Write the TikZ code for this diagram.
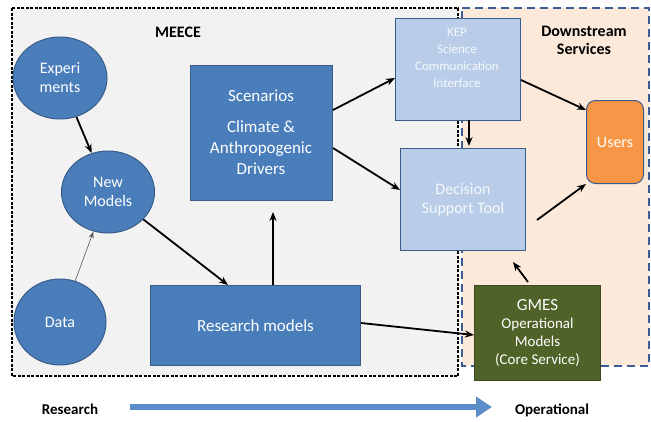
\documentclass[tikz,border=0pt]{standalone}
\usepackage{fontspec}
\setmainfont{Carlito}
\usetikzlibrary{arrows.meta}
\definecolor{meecefill}{HTML}{F2F2F2}
\definecolor{downfill}{HTML}{FCE9DA}
\definecolor{dkblue}{HTML}{4A7EBB}
\definecolor{bordblue}{HTML}{385D8A}
\definecolor{litblue}{HTML}{B9CDE9}
\definecolor{dashblue}{HTML}{3B5C95}
\definecolor{gmesgreen}{HTML}{4F6228}
\definecolor{gmesbord}{HTML}{3A4A1E}
\definecolor{userorange}{HTML}{F79646}
\definecolor{bigarrow}{HTML}{5B8DC8}
\tikzset{
  txt/.style={font=\fontsize{16}{19}\selectfont, text=white, align=center},
  ell/.style={ellipse, fill=dkblue, draw=bordblue, line width=1pt, txt},
  dkbox/.style={fill=dkblue, draw=bordblue, line width=1pt, txt},
  ltbox/.style={fill=litblue, draw=bordblue, line width=1pt, txt},
  conn/.style={-{Stealth[length=9pt,width=7pt]}, line width=1.8pt, black},
  thinconn/.style={-{Stealth[length=7pt,width=5pt]}, line width=0.6pt, gray!70!black},
  lbl/.style={font=\bfseries\fontsize{16}{18}\selectfont, align=center, text=black},
}
\usetikzlibrary{shapes.geometric}
\begin{document}
\begin{tikzpicture}[x=1pt,y=-1pt]
\useasboundingbox (0,0) rectangle (651,421);
\fill[white] (0,0) rectangle (651,421);
% regions
\fill[downfill] (462,8) rectangle (649,366);
\draw[dashblue, line width=2pt, dash pattern=on 8pt off 5pt] (462,8) -- (649,8) -- (649,366) -- (462,366) -- cycle;
\fill[meecefill] (12,8) rectangle (458,376);
\draw[black, line width=1.8pt, dash pattern=on 3pt off 1.5pt] (12,8) rectangle (458,376);
\node[lbl] (meece) at (178,32) {MEECE};
\node[lbl] (down) at (584,40) {Downstream\\Services};
% nodes
\node[ell, minimum width=94pt, minimum height=82pt, inner sep=0pt] (exp) at (60,78) {Experi\\ments};
\node[ell, minimum width=93pt, minimum height=82pt, inner sep=0pt] (newm) at (108,192) {New\\Models};
\node[ell, minimum width=92pt, minimum height=86pt, inner sep=0pt] (data) at (60,322) {Data};
\node[dkbox, minimum width=142pt, minimum height=135pt, anchor=north west, inner sep=0pt] (scen) at (190,65) {};
\node[txt, font=\fontsize{17}{21}\selectfont] (scentxt) at (261,132) {Scenarios\\[10pt]Climate \&\\Anthropogenic\\Drivers};
\node[dkbox, minimum width=210pt, minimum height=80pt, anchor=north west, inner sep=0pt, font=\fontsize{17}{20}\selectfont] (res) at (150,285) {Research models};
\node[fill=gmesgreen, draw=gmesbord, line width=1pt, txt, minimum width=126pt, minimum height=95pt, anchor=north west, inner sep=0pt, font=\fontsize{15}{18}\selectfont] (gmes) at (474,285) {{\fontsize{17}{20}\selectfont GMES}\\Operational\\Models\\(Core Service)};
\node[ltbox, minimum width=125pt, minimum height=102pt, anchor=north west, inner sep=0pt] (kep) at (395,18) {};
\node[txt, text=white!85!litblue, font=\fontsize{13}{17}\selectfont] (keptxt) at (457,58) {KEP\\Science\\Communication\\Interface};
\node[ltbox, minimum width=125pt, minimum height=102pt, anchor=north west, inner sep=0pt, text=white!85!litblue] (dst) at (400,148) {Decision\\Support Tool};
\node[rounded corners=9pt, fill=userorange, draw=bordblue, line width=1pt, txt, minimum width=57pt, minimum height=83pt, anchor=north west, inner sep=0pt] (users) at (586,100) {Users};
% connectors
\draw[conn] (exp) -- (newm);
\draw[thinconn] (data) -- (newm);
\draw[conn] (newm) -- (res.north west -| 228,280);
\coordinate (resup) at (273,285);
\coordinate (scenbot) at (273,212);
\draw[conn] (resup) -- (scenbot);
\draw[conn] (scen.east |- 0,110) -- (kep.west |- 0,78);
\draw[conn] (scen.east |- 0,148) -- (dst.west |- 0,190);
\draw[conn] (469,120) -- (469,146);
\draw[conn] (kep.east |- 0,80) -- (users.west |- 0,110);
\draw[conn] (537,220) -- (users.west |- 0,184);
\draw[conn] (528,282) -- (513,262);
\draw[conn] (res.east |- 0,323) -- (gmes.west |- 0,335);
% bottom
\node[lbl, font=\bfseries\fontsize{15}{17}\selectfont] (rlab) at (70,409) {Research};
\node[lbl, font=\bfseries\fontsize{15}{17}\selectfont] (olab) at (552,410) {Operational};
\coordinate (arrS) at (130,407);
\coordinate (arrE) at (492,407);
\draw[bigarrow, line width=6pt, -{Triangle[length=16pt,width=20pt]}] (arrS) -- (arrE);
\end{tikzpicture}
\end{document}
